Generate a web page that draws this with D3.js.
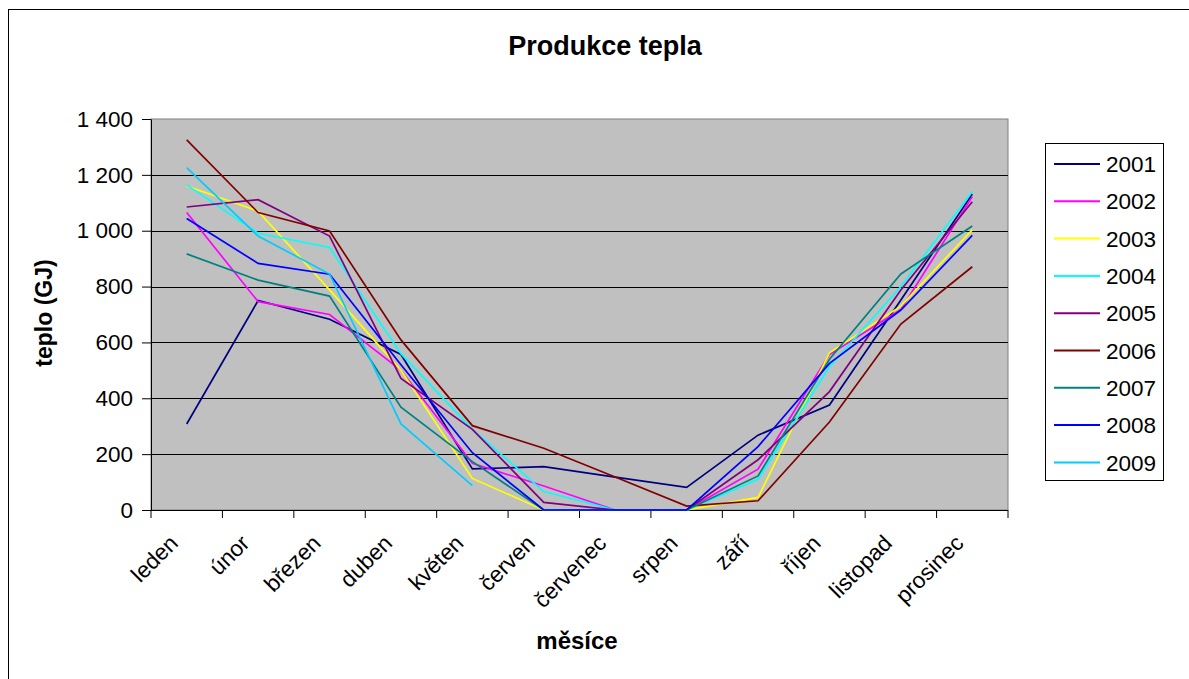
<!DOCTYPE html>
<html>
<head>
<meta charset="utf-8">
<script src="https://cdn.jsdelivr.net/npm/d3@7"></script>
<style>
  html, body { margin: 0; padding: 0; background: #fff; }
  svg { display: block; font-family: Arial, "Liberation Sans", sans-serif; }
</style>
</head>
<body>
<svg id="chart" width="1189" height="679"></svg>
<script>
// Months of the year (Czech)
const months = ["leden", "únor", "březen", "duben", "květen", "červen",
                "červenec", "srpen", "září", "říjen", "listopad", "prosinec"];

// Heat production per month, GJ
const years = ["2001", "2002", "2003", "2004", "2005", "2006", "2007", "2008", "2009"];
const v2001 = [308, 750, 683, 557, 147, 155, 118, 81, 268, 376, 752, 1131];
const v2002 = [1065, 746, 700, 500, 167, 86, 0, 0, 146, 557, 718, 1122];
const v2003 = [1160, 1070, 788, 500, 113, 0, 0, 0, 45, 563, 730, 1003];
const v2004 = [1164, 991, 940, 560, 289, 66, 0, 0, 110, 513, 800, 1140];
const v2005 = [1085, 1111, 981, 471, 289, 27, 0, 0, 180, 424, 788, 1104];
const v2006 = [1325, 1065, 999, 609, 302, 221, 118, 14, 33, 315, 666, 871];
const v2007 = [917, 823, 766, 368, 173, 0, 0, 0, 122, 540, 845, 1017];
const v2008 = [1044, 883, 844, 520, 205, 0, 0, 0, 227, 525, 716, 983];
const v2009 = [1226, 981, 845, 308, 87, null, null, null, null, null, null, null];

const yTicks = [0, 200, 400, 600, 800, 1000, 1200, 1400];
const colors = ["#000080", "#FF00FF", "#FFFF00", "#00FFFF", "#800080",
                "#800000", "#008080", "#0000FF", "#00CCFF"];

const seriesValues = [v2001, v2002, v2003, v2004, v2005, v2006, v2007, v2008, v2009];
const series = years.map((y, i) => ({ name: y, values: seriesValues[i], color: colors[i] }));

const svg = d3.select("#chart");

// Outer chart frame
svg.append("rect")
  .attr("x", 8.5).attr("y", 9.5)
  .attr("width", 1200).attr("height", 700)
  .attr("fill", "#fff").attr("stroke", "#000").attr("stroke-width", 1);

const plot = { left: 151, right: 1008, top: 119, bottom: 510 };

const x = d3.scaleBand().domain(months).range([plot.left, plot.right]).padding(0);
const y = d3.scaleLinear().domain([0, 1400]).range([plot.bottom, plot.top]);

// Plot area background
svg.append("rect")
  .attr("x", plot.left).attr("y", plot.top)
  .attr("width", plot.right - plot.left).attr("height", plot.bottom - plot.top)
  .attr("fill", "#C0C0C0").attr("stroke", "#808080").attr("stroke-width", 1);

// Horizontal gridlines
svg.append("g")
  .selectAll("line")
  .data(yTicks.filter(d => d > 0 && d < 1400))
  .join("line")
  .attr("x1", plot.left).attr("x2", plot.right)
  .attr("y1", d => Math.round(y(d)) + 0.5).attr("y2", d => Math.round(y(d)) + 0.5)
  .attr("stroke", "#000").attr("stroke-width", 1);

// Y axis
const czLocale = d3.formatLocale({ decimal: ",", thousands: " ", grouping: [3], currency: ["", ""] });
const fmt = czLocale.format(",d");
const yAxis = d3.axisLeft(y).tickValues(yTicks).tickFormat(fmt).tickSizeInner(9).tickSizeOuter(0).tickPadding(9);
const gy = svg.append("g").attr("transform", `translate(${plot.left},0)`).call(yAxis);
gy.select(".domain").attr("stroke", "#000");
gy.selectAll(".tick line").attr("stroke", "#000");
gy.selectAll("text").attr("font-size", 22.5).attr("fill", "#000")
  .attr("font-family", "Arial, 'Liberation Sans', sans-serif");

// X axis: ticks on the category boundaries
const gx = svg.append("g").attr("transform", `translate(0,${plot.bottom})`);
gx.append("line").attr("x1", plot.left).attr("x2", plot.right)
  .attr("y1", 0.5).attr("y2", 0.5).attr("stroke", "#000");
const bounds = months.map(m => x(m)).concat([plot.right]);
gx.selectAll("line.tk").data(bounds).join("line").attr("class", "tk")
  .attr("x1", d => d).attr("x2", d => d).attr("y1", 0).attr("y2", 8)
  .attr("stroke", "#000");
gx.selectAll("text.lbl").data(months).join("text").attr("class", "lbl")
  .attr("transform", d => `translate(${x(d) + x.bandwidth() / 2 - 13},${29}) rotate(-45)`)
  .attr("text-anchor", "end")
  .attr("dy", "0.35em")
  .attr("font-size", 22.5)
  .attr("fill", "#000")
  .text(d => d);

// Series lines
const line = d3.line()
  .defined(d => d.v !== null)
  .x(d => x(d.m) + x.bandwidth() / 2)
  .y(d => y(d.v));

svg.append("g").selectAll("path")
  .data(series)
  .join("path")
  .attr("fill", "none")
  .attr("stroke", d => d.color)
  .attr("stroke-width", 1.7)
  .attr("stroke-linejoin", "miter")
  .attr("d", d => line(d.values.map((v, i) => ({ m: months[i], v }))));

// Titles
svg.append("text")
  .attr("x", 605).attr("y", 55)
  .attr("text-anchor", "middle")
  .attr("font-size", 27).attr("font-weight", "bold")
  .text("Produkce tepla");

svg.append("text")
  .attr("x", 577).attr("y", 649)
  .attr("text-anchor", "middle")
  .attr("font-size", 24).attr("font-weight", "bold")
  .text("měsíce");

svg.append("text")
  .attr("transform", "translate(52,313) rotate(-90)")
  .attr("text-anchor", "middle")
  .attr("font-size", 23).attr("font-weight", "bold")
  .text("teplo (GJ)");

// Legend
const legend = svg.append("g");
legend.append("rect")
  .attr("x", 1045.5).attr("y", 143.5)
  .attr("width", 118).attr("height", 337)
  .attr("fill", "#fff").attr("stroke", "#000").attr("stroke-width", 1);
const items = legend.selectAll("g.item").data(series).join("g").attr("class", "item")
  .attr("transform", (d, i) => `translate(0,${164 + i * 37.3})`);
items.append("line")
  .attr("x1", 1054).attr("x2", 1100).attr("y1", 0).attr("y2", 0)
  .attr("stroke", d => d.color).attr("stroke-width", 2);
items.append("text")
  .attr("x", 1106).attr("y", 0).attr("dy", "0.36em")
  .attr("font-size", 22.5)
  .text(d => d.name);
</script>
</body>
</html>
